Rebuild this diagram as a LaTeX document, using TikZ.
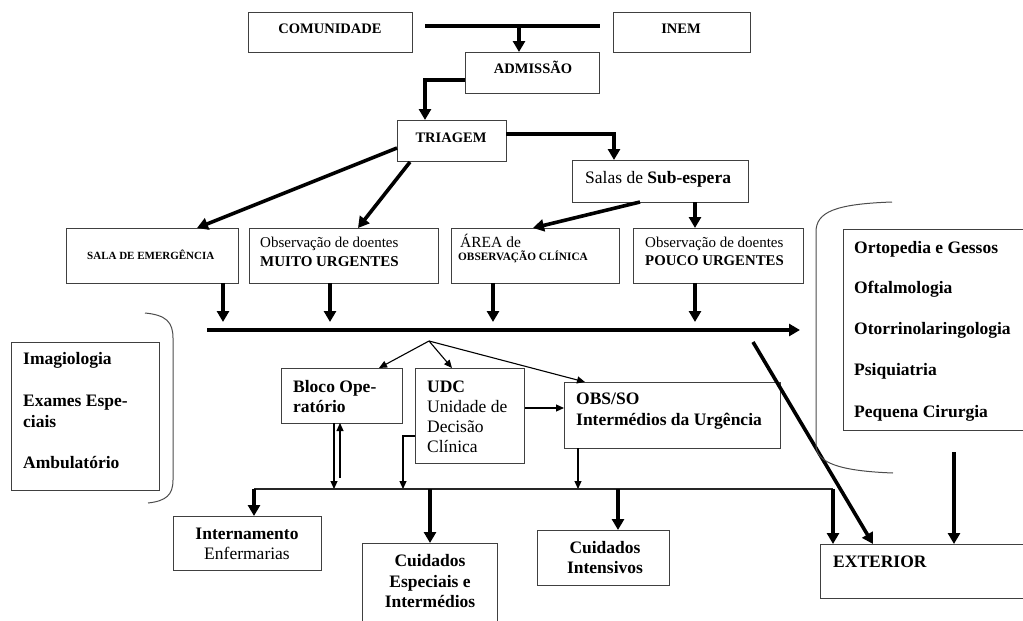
\documentclass[tikz,border=0pt]{standalone}
\usepackage{fontspec}
\setmainfont{Liberation Serif}
\usetikzlibrary{arrows.meta}
\tikzset{
  box/.style={draw=black!75, line width=1.3pt, inner sep=0pt, anchor=north west},
  thk/.style={line width=3.6pt, -{Triangle[width=12pt,length=11pt]}},
  thkl/.style={line width=3.6pt},
  thn/.style={line width=1.1pt, -{Triangle[width=7pt,length=8pt]}},
  bus/.style={line width=1.6pt, draw=black!85},
  brk/.style={line width=1pt, draw=black!70},
  lbl/.style={inner sep=0pt, anchor=base west, font=\fontsize{17.5}{20}\selectfont},
  lblc/.style={lbl, anchor=base},
  capt/.style={inner sep=0pt, anchor=base, font=\fontsize{14.5}{17}\selectfont\bfseries},
}
\begin{document}
\begin{tikzpicture}[x=1pt,y=-1pt]
\useasboundingbox (0,0) rectangle (1023,621);
\clip (0,0) rectangle (1023,621);
% ---------- boxes ----------
\node[box, minimum width=164pt, minimum height=40pt] (com) at (248,12) {};
\node[box, minimum width=137pt, minimum height=40pt] (inem) at (613,12) {};
\node[box, minimum width=134pt, minimum height=41pt] (adm) at (465,52) {};
\node[box, minimum width=109pt, minimum height=41pt] (tri) at (397,120) {};
\node[box, minimum width=176pt, minimum height=42pt] (sub) at (572,160) {};
\node[box, minimum width=172pt, minimum height=55pt] (sala) at (66,228) {};
\node[box, minimum width=189pt, minimum height=55pt] (muito) at (249,228) {};
\node[box, minimum width=168pt, minimum height=55pt] (area) at (451,228) {};
\node[box, minimum width=170pt, minimum height=55pt] (pouco) at (633,228) {};
\node[box, minimum width=148pt, minimum height=148pt] (lbox) at (11,342) {};
\node[box, minimum width=187pt, minimum height=201pt] (rbox) at (843,229) {};
\node[box, minimum width=121pt, minimum height=55pt] (bloco) at (281,368) {};
\node[box, minimum width=109pt, minimum height=95pt] (udc) at (415,368) {};
\node[box, minimum width=216pt, minimum height=66pt] (obs) at (564,382) {};
\node[box, minimum width=148pt, minimum height=54pt] (int) at (173,516) {};
\node[box, minimum width=135pt, minimum height=90pt] (ce) at (362,543) {};
\node[box, minimum width=132pt, minimum height=55pt] (ci) at (537,530) {};
\node[box, minimum width=210pt, minimum height=54pt] (ext) at (820,544) {};
% ---------- texts ----------
\node[capt] (tcom) at (330,33) {COMUNIDADE};
\node[capt] (tinem) at (681,33) {INEM};
\node[capt] (tadm) at (533,73) {ADMISSÃO};
\node[capt] (ttri) at (451,142) {TRIAGEM};
\node[lbl] (tsub) at (585,183) {Salas de \textbf{Sub-espera}};
\node[lbl, font=\fontsize{11}{13}\selectfont\bfseries] (tsala) at (87,259) {SALA DE EMERGÊNCIA};
\node[lbl, font=\fontsize{15}{17}\selectfont] (tmu1) at (260,247) {Observação de doentes};
\node[lbl, font=\fontsize{15}{17}\selectfont\bfseries] (tmu2) at (260,266) {MUITO URGENTES};
\node[lbl, font=\fontsize{15.5}{17}\selectfont] (tar1) at (460,247) {ÁREA de};
\node[lbl, font=\fontsize{11.3}{13}\selectfont\bfseries] (tar2) at (458,260) {OBSERVAÇÃO CLÍNICA};
\node[lbl, font=\fontsize{15}{17}\selectfont] (tpo1) at (645,247) {Observação de doentes};
\node[lbl, font=\fontsize{14.8}{17}\selectfont\bfseries] (tpo2) at (645,265) {POUCO URGENTES};
% right box
\node[lbl, font=\fontsize{17.5}{20}\selectfont\bfseries] (r1) at (854,253) {Ortopedia e Gessos};
\node[lbl, font=\fontsize{17.5}{20}\selectfont\bfseries] (r2) at (854,293) {Oftalmologia};
\node[lbl, font=\fontsize{17.5}{20}\selectfont\bfseries] (r3) at (854,334) {Otorrinolaringologia};
\node[lbl, font=\fontsize{17.5}{20}\selectfont\bfseries] (r4) at (854,375) {Psiquiatria};
\node[lbl, font=\fontsize{17.5}{20}\selectfont\bfseries] (r5) at (854,417) {Pequena Cirurgia};
% left box
\node[lbl, font=\fontsize{17.5}{20}\selectfont\bfseries] (l1) at (23,364) {Imagiologia};
\node[lbl, font=\fontsize{17.5}{20}\selectfont\bfseries] (l2) at (23,406) {Exames Espe-};
\node[lbl, font=\fontsize{17.5}{20}\selectfont\bfseries] (l3) at (23,427) {ciais};
\node[lbl, font=\fontsize{17.5}{20}\selectfont\bfseries] (l4) at (23,468) {Ambulatório};
% bloco
\node[lbl, font=\fontsize{17.5}{20}\selectfont\bfseries] (b1) at (293,392) {Bloco Ope-};
\node[lbl, font=\fontsize{17.5}{20}\selectfont\bfseries] (b2) at (293,412) {ratório};
% udc
\node[lbl, font=\fontsize{17.5}{20}\selectfont\bfseries] (u1) at (427,392) {UDC};
\node[lbl] (u2) at (427,412) {Unidade de};
\node[lbl] (u3) at (427,432) {Decisão};
\node[lbl] (u4) at (427,452) {Clínica};
% obs
\node[lbl, font=\fontsize{17.5}{20}\selectfont\bfseries] (o1) at (576,404) {OBS/SO};
\node[lbl, font=\fontsize{17.5}{20}\selectfont\bfseries] (o2) at (576,425) {Intermédios da Urgência};
% bottom
\node[lblc, font=\fontsize{17.5}{20}\selectfont\bfseries] (i1) at (247,539) {Internamento};
\node[lblc] (i2) at (247,559) {Enfermarias};
\node[lblc, font=\fontsize{17.5}{20}\selectfont\bfseries] (c1) at (430,566) {Cuidados};
\node[lblc, font=\fontsize{17.5}{20}\selectfont\bfseries] (c2) at (430,587) {Especiais e};
\node[lblc, font=\fontsize{17.5}{20}\selectfont\bfseries] (c3) at (430,607) {Intermédios};
\node[lblc, font=\fontsize{17.5}{20}\selectfont\bfseries] (k1) at (605,553) {Cuidados};
\node[lblc, font=\fontsize{17.5}{20}\selectfont\bfseries] (k2) at (605,573) {Intensivos};
\node[lbl, font=\fontsize{17.5}{20}\selectfont\bfseries] (e1) at (833,567) {EXTERIOR};
% ---------- coordinates ----------
\coordinate (barL) at (425,26);
\coordinate (barR) at (600,26);
\coordinate (barM) at (519,26);
\coordinate (admL) at (465,80);
\coordinate (admK) at (425,80);
\coordinate (triR) at (506,134);
\coordinate (triK) at (614,134);
\coordinate (mainL) at (207,330);
\coordinate (mainR) at (800,330);
\coordinate (fan) at (429,341);
\coordinate (busL) at (254,489);
\coordinate (busR) at (833,489);
\coordinate (diag) at (753,342);
% ---------- connectors ----------
\draw[thkl] (barL) -- (barR);
\draw[thk] (barM) -- (barM |- adm.north);
\draw[thk] (admL) -- (admK) -- (admK |- tri.north);
\draw[thk] (triR) -- (triK) -- (triK |- sub.north);
\draw[thk] (397,148) -- (197,228);
\draw[thk] (410,162) -- (358,228);
\draw[thk] (640,202) -- (533,228);
\draw[thk] (695,202) -- (695,228);
% row boxes to main line
\draw[thk] (223,283) -- (223,322);
\draw[thk] (330,283) -- (330,322);
\draw[thk] (493,283) -- (493,322);
\draw[thk] (695,283) -- (695,322);
\draw[thk] (mainL) -- (mainR);
% fan
\draw[thn] (fan) -- (379,368);
\draw[thn] (fan) -- (452,368);
\draw[thn] (fan) -- (585,382);
\draw[thn] (udc.east |- 0,408) -- (obs.west |- 0,408);
\draw[thn] (415,436) -- (403,436) -- (403,489);
\draw[thn] (578,448) -- (578,489);
\draw[thn] (334,423) -- (334,489);
\draw[thn] (340,478) -- (340,423);
% bus
\draw[bus] (busL) -- (busR);
\draw[thk] (busL) -- (busL |- int.north);
\draw[thk] (430,489) -- (430,543);
\draw[thk] (618,489) -- (618,530);
\draw[thk] (busR) -- (busR |- ext.north);
\draw[thk] (diag) -- (873,544);
\draw[thk] (954,452) -- (954,544);
% brackets
\draw[brk] (145,313) .. controls (166,315) and (173,322) .. (173,338) -- (173,480) .. controls (173,495) and (166,501) .. (148,503);
\draw[brk] (892,202) .. controls (835,204) and (816,212) .. (816,232) -- (816,445) .. controls (816,463) and (840,471) .. (893,473);
\end{tikzpicture}
\end{document}
